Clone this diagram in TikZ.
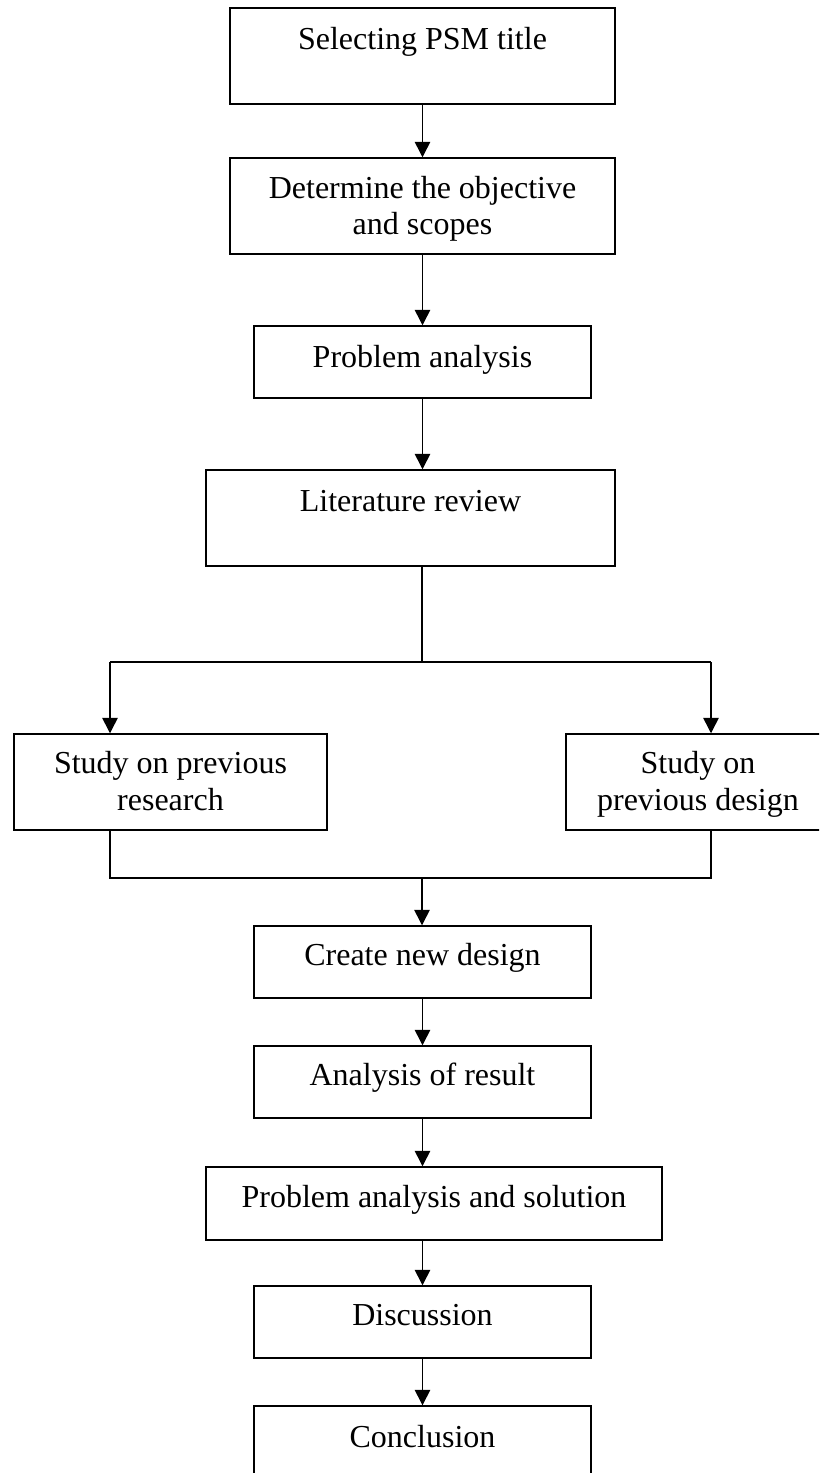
\documentclass[tikz,border=0pt]{standalone}
\usepackage{fontspec}
\setmainfont{Liberation Serif}
\usetikzlibrary{arrows.meta}
\begin{document}
\begin{tikzpicture}[x=0.75pt,y=-0.75pt,
  box/.style={draw=black,line width=1.1pt,inner sep=0pt,fill=white},
  lbl/.style={anchor=base,align=center,inner sep=0pt,font=\fontsize{24}{27.6}\selectfont},
  conn/.style={line width=1.1pt},
  arr/.style={line width=1.1pt,-{Triangle[length=11.5pt,width=11.5pt]}}]
\useasboundingbox (0,0) rectangle (819,1473);
\clip (0,0) rectangle (819,1473);
\fill[white] (0,0) rectangle (819,1473);
% boxes
\node[box,minimum width=288.75pt,minimum height=72pt] (b1) at (422.5,56) {};
\node[box,minimum width=288.75pt,minimum height=72pt] (b2) at (422.5,206) {};
\node[box,minimum width=252.75pt,minimum height=54pt] (b3) at (422.5,362) {};
\node[box,minimum width=306.75pt,minimum height=72pt] (b4) at (410.5,518) {};
\node[box,minimum width=234.75pt,minimum height=72pt] (b5) at (170.5,782) {};
\node[box,minimum width=198pt,minimum height=72pt] (b6) at (698,782) {};
\node[box,minimum width=252.75pt,minimum height=54pt] (b7) at (422.5,962) {};
\node[box,minimum width=252.75pt,minimum height=54pt] (b8) at (422.5,1082) {};
\node[box,minimum width=342pt,minimum height=54.75pt] (b9) at (434,1203.5) {};
\node[box,minimum width=252.75pt,minimum height=54pt] (b10) at (422.5,1322) {};
\node[box,minimum width=252.75pt,minimum height=72pt] (b11) at (422.5,1454) {};
% labels
\node[lbl] (t1) at (422.5,50) {Selecting PSM title};
\node[lbl] (t2) at (422.5,235) {Determine the objective\\and scopes};
\node[lbl] (t3) at (422.5,367) {Problem analysis};
\node[lbl] (t4) at (410.5,511) {Literature review};
\node[lbl] (t5) at (170.5,810) {Study on previous\\research};
\node[lbl] (t6) at (698,810) {Study on\\previous design};
\node[lbl] (t7) at (422.5,965) {Create new design};
\node[lbl] (t8) at (422.5,1085) {Analysis of result};
\node[lbl] (t9) at (434,1207) {Problem analysis and solution};
\node[lbl] (t10) at (422.5,1325) {Discussion};
\node[lbl] (t11) at (422.5,1447) {Conclusion};
% junction points
\coordinate (j1) at (422,662);
\coordinate (cl) at (110,662);
\coordinate (cr) at (711,662);
\coordinate (jl) at (110,878);
\coordinate (jr) at (711,878);
\coordinate (j2) at (422,878);
% connectors
\draw[arr] (b1.south) -- (b2.north);
\draw[arr] (b2.south) -- (b3.north);
\draw[arr] (b3.south) -- (b4.north -| b3.south);
\draw[conn] (b4.south -| j1) -- (j1);
\draw[conn] (cl) -- (cr);
\draw[arr] (cl) -- (cl |- b5.north);
\draw[arr] (cr) -- (cr |- b6.north);
\draw[conn] (jl |- b5.south) -- (jl) -- (jr) -- (jr |- b6.south);
\draw[arr] (j2) -- (b7.north -| j2);
\draw[arr] (b7.south) -- (b8.north);
\draw[arr] (b8.south) -- (b8.south |- b9.north);
\draw[arr] (b10.north |- b9.south) -- (b10.north);
\draw[arr] (b10.south) -- (b11.north);
\end{tikzpicture}
\end{document}
